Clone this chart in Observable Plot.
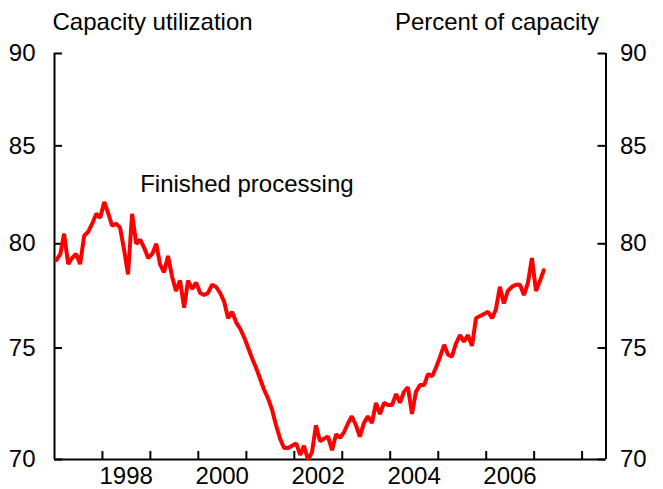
<!DOCTYPE html>
<html>
<head>
<meta charset="utf-8">
<script src="https://cdn.jsdelivr.net/npm/d3@7"></script>
<script src="https://cdn.jsdelivr.net/npm/@observablehq/plot@0.6"></script>
<style>
  html, body { margin: 0; padding: 0; background: white; }
</style>
</head>
<body>
<div id="chart"></div>
<script>
// ---- Data (monthly, starting January 1997) ----
const startYear = 1997;
const startMonth = 0; // January
const seriesName = "Finished processing";
const values = [
  79.2, 79.5, 80.5, 79.0, 79.3, 79.5, 79.0, 80.4, 80.6, 81.0, 81.5, 81.3,
  82.1, 81.5, 80.9, 81.0, 80.8, 79.7, 78.5, 81.5, 80.0, 80.2, 79.8, 79.3,
  79.5, 80.0, 79.0, 78.6, 79.4, 78.4, 77.7, 78.2, 76.9, 78.2, 77.8, 78.1,
  77.6, 77.5, 77.6, 78.0, 77.9, 77.6, 77.2, 76.4, 76.7, 76.2, 75.9, 75.5,
  75.0, 74.5, 74.1, 73.6, 73.1, 72.7, 72.2, 71.5, 70.9, 70.5, 70.5, 70.6,
  70.7, 70.2, 70.6, 70.0, 70.3, 71.5, 70.8, 70.9, 71.0, 70.4, 71.1, 70.95,
  71.2, 71.6, 71.9, 71.5, 71.0, 71.6, 71.9, 71.6, 72.5, 72.0, 72.5, 72.4,
  72.4, 72.9, 72.5, 73.0, 73.2, 72.0, 73.0, 73.3, 73.3, 73.8, 73.7, 74.1,
  74.6, 75.15, 74.7, 74.6, 75.2, 75.6, 75.3, 75.6, 75.1, 76.4, 76.5, 76.6,
  76.7, 76.4, 76.8, 77.9, 77.1, 77.7, 77.9, 78.0, 78.0, 77.5, 78.1, 79.3,
  77.7, 78.2, 78.7
];
const yTicks = [70, 75, 80, 85, 90];
const yearTicks = [1998, 1999, 2000, 2001, 2002, 2003, 2004, 2005, 2006, 2007, 2008];
const yearLabels = [1998, 2000, 2002, 2004, 2006];
const xStart = [1997, 0];   // Jan 1997
const xEnd = [2008, 6];     // Jul 2008
const yDomain = [70, 90];
const titleLeft = "Capacity utilization";
const titleRight = "Percent of capacity";

// ---- Layout ----
const W = 663, H = 489;
const mL = 54, mR = 57.5, mT = 53, mB = 30;
const frameW = W - mL - mR, frameH = H - mT - mB;
const tickLen = 8;
const fs = 24;

// ---- Build table ----
const data = values.map((v, i) => ({
  date: new Date(Date.UTC(startYear, startMonth + i, 15)),
  value: v
}));
const utc = (y, m = 0, d = 1) => new Date(Date.UTC(y, m, d));
const tickDates = yearTicks.map(y => utc(y));
const labelDates = yearLabels.map(y => utc(y, 6, 1));
const xDomain = [utc(xStart[0], xStart[1]), utc(xEnd[0], xEnd[1])];

const chart = Plot.plot({
  width: W,
  height: H,
  marginLeft: mL,
  marginRight: mR,
  marginTop: mT,
  marginBottom: mB,
  style: {
    fontFamily: "'Liberation Sans', Arial, Helvetica, sans-serif",
    fontSize: fs + "px",
    background: "white",
    color: "black",
    overflow: "visible"
  },
  x: { type: "utc", domain: xDomain, axis: null },
  y: { type: "log", domain: yDomain, axis: null },
  marks: [
    // frame: left, right, bottom
    Plot.ruleX([xDomain[0], xDomain[1]], { stroke: "black", strokeWidth: 2 }),
    Plot.ruleY([yDomain[0]], { stroke: "black", strokeWidth: 2 }),
    // inward tick marks: left, right, bottom
    Plot.tickY(yTicks, { y: d => d, insetRight: frameW - tickLen, stroke: "black", strokeWidth: 2 }),
    Plot.tickY(yTicks, { y: d => d, insetLeft: frameW - tickLen, stroke: "black", strokeWidth: 2 }),
    Plot.tickX(tickDates, { x: d => d, insetTop: frameH - tickLen, stroke: "black", strokeWidth: 2 }),
    // left axis labels
    Plot.axisY(yTicks, {
      anchor: "left", tickSize: 0, tickPadding: 19,
      tickFormat: d => String(d), label: null, fontSize: fs
    }),
    // right axis labels
    Plot.axisY(yTicks, {
      anchor: "right", tickSize: 0, tickPadding: 14,
      tickFormat: d => String(d), label: null, fontSize: fs
    }),
    // x labels (mid-year)
    Plot.axisX(labelDates, {
      anchor: "bottom", tickSize: 0, tickPadding: 7,
      tickFormat: d => String(d.getUTCFullYear()), label: null, fontSize: fs
    }),
    // series
    Plot.line(data, {
      x: "date", y: "value", stroke: "#ff0000", strokeWidth: 4,
      strokeLinejoin: "miter", curve: "linear"
    }),
    // series label
    Plot.text([seriesName], {
      x: utc(1998, 9, 15), y: 83.0, text: d => d,
      textAnchor: "start", fontSize: fs, fill: "black"
    }),
    // titles
    Plot.text([titleLeft], {
      frameAnchor: "top-left", text: d => d, textAnchor: "start",
      lineAnchor: "bottom", dx: -2, dy: -24, fontSize: fs, fill: "black"
    }),
    Plot.text([titleRight], {
      frameAnchor: "top-right", text: d => d, textAnchor: "end",
      lineAnchor: "bottom", dx: -7, dy: -24, fontSize: fs, fill: "black"
    })
  ]
});

document.getElementById("chart").appendChild(chart);
</script>
</body>
</html>
